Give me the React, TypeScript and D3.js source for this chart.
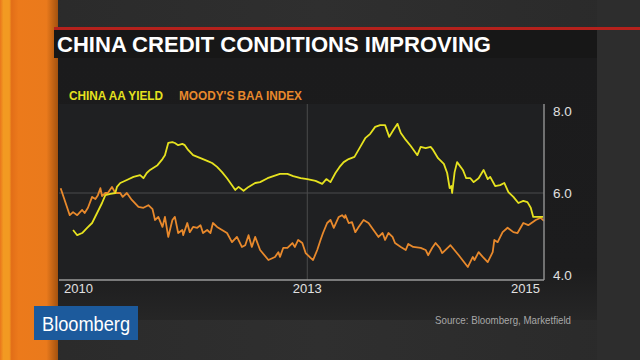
import React, { useEffect, useRef } from "react";
import * as d3 from "d3";

const title = "CHINA CREDIT CONDITIONS IMPROVING";
const seriesNames = ["CHINA AA YIELD", "MOODY'S BAA INDEX"];
const seriesColors = ["#e6e21f", "#e8892c"];
const yTicks = [4, 6, 8];
const xTickLabels = ["2010", "2013", "2015"];
const xTickYears = [2010, 2013, 2015.86];
const source = "Source: Bloomberg, Marketfield";

// [fractional year, yield %]
const chinaAA: [number, number][] = [
  [2010.17, 5.15], [2010.22, 5.03], [2010.28, 5.08], [2010.34, 5.2], [2010.4, 5.31],
  [2010.46, 5.54], [2010.52, 5.77], [2010.56, 5.95], [2010.62, 5.98], [2010.68, 6.0],
  [2010.7, 6.14], [2010.74, 6.23], [2010.82, 6.3], [2010.9, 6.37], [2010.98, 6.41],
  [2011.02, 6.34], [2011.06, 6.46], [2011.1, 6.53], [2011.19, 6.64], [2011.25, 6.78],
  [2011.28, 6.87], [2011.32, 7.15], [2011.37, 7.17], [2011.4, 7.15], [2011.44, 7.1],
  [2011.49, 7.13], [2011.52, 7.1], [2011.56, 6.99], [2011.62, 6.87], [2011.71, 6.8],
  [2011.79, 6.74], [2011.85, 6.69], [2011.91, 6.6], [2011.97, 6.48], [2012.03, 6.34],
  [2012.09, 6.18], [2012.13, 6.07], [2012.17, 6.14], [2012.23, 6.05], [2012.29, 6.14],
  [2012.37, 6.23], [2012.43, 6.25], [2012.52, 6.34], [2012.59, 6.39], [2012.67, 6.44],
  [2012.76, 6.44], [2012.83, 6.39], [2012.92, 6.34], [2013.0, 6.32], [2013.1, 6.28],
  [2013.18, 6.21], [2013.23, 6.32], [2013.28, 6.25], [2013.34, 6.46], [2013.39, 6.6],
  [2013.44, 6.71], [2013.5, 6.78], [2013.57, 6.83], [2013.64, 7.06], [2013.7, 7.26],
  [2013.76, 7.36], [2013.82, 7.52], [2013.88, 7.56], [2013.94, 7.56], [2013.99, 7.29],
  [2014.04, 7.45], [2014.09, 7.59], [2014.13, 7.38], [2014.19, 7.22], [2014.25, 7.08],
  [2014.33, 6.87], [2014.37, 7.06], [2014.43, 7.03], [2014.49, 7.06], [2014.52, 6.99],
  [2014.58, 6.8], [2014.65, 6.67], [2014.69, 6.46], [2014.72, 6.11], [2014.74, 6.16],
  [2014.75, 6.0], [2014.78, 6.48], [2014.81, 6.71], [2014.88, 6.53], [2014.92, 6.34],
  [2014.97, 6.34], [2015.01, 6.25], [2015.07, 6.34], [2015.13, 6.53], [2015.18, 6.32],
  [2015.21, 6.37], [2015.27, 6.16], [2015.33, 6.18], [2015.38, 6.23], [2015.43, 6.02],
  [2015.49, 5.91], [2015.55, 5.77], [2015.61, 5.82], [2015.66, 5.79], [2015.7, 5.66],
  [2015.73, 5.45], [2015.79, 5.45], [2015.85, 5.45],
];

const moodysBaa: [number, number][] = [
  [2010.02, 6.11], [2010.13, 5.49], [2010.17, 5.56], [2010.22, 5.49], [2010.28, 5.61],
  [2010.31, 5.54], [2010.35, 5.66], [2010.4, 5.91], [2010.44, 5.86], [2010.47, 5.95],
  [2010.5, 6.11], [2010.52, 5.93], [2010.56, 6.0], [2010.59, 6.0], [2010.64, 6.14],
  [2010.68, 6.0], [2010.74, 6.0], [2010.77, 5.91], [2010.82, 6.0], [2010.88, 5.84],
  [2010.96, 5.68], [2011.02, 5.66], [2011.08, 5.72], [2011.13, 5.63], [2011.16, 5.38],
  [2011.2, 5.45], [2011.25, 5.22], [2011.28, 5.45], [2011.32, 4.99], [2011.37, 5.38],
  [2011.4, 5.45], [2011.44, 5.08], [2011.49, 5.15], [2011.5, 5.03], [2011.55, 5.31],
  [2011.58, 5.1], [2011.62, 5.22], [2011.67, 5.2], [2011.71, 5.26], [2011.74, 5.08],
  [2011.79, 5.15], [2011.83, 5.08], [2011.86, 5.31], [2011.91, 5.22], [2011.97, 5.15],
  [2012.03, 5.08], [2012.09, 4.87], [2012.15, 4.99], [2012.21, 4.76], [2012.25, 4.8],
  [2012.29, 5.03], [2012.33, 4.76], [2012.37, 4.99], [2012.43, 4.69], [2012.53, 4.46],
  [2012.61, 4.53], [2012.65, 4.64], [2012.67, 4.53], [2012.71, 4.74], [2012.76, 4.74],
  [2012.82, 4.85], [2012.85, 4.76], [2012.89, 4.92], [2012.94, 4.85], [2012.98, 4.62],
  [2013.04, 4.51], [2013.07, 4.46], [2013.12, 4.69], [2013.16, 4.92], [2013.19, 5.08],
  [2013.24, 5.31], [2013.28, 5.38], [2013.32, 5.2], [2013.38, 5.45], [2013.42, 5.49],
  [2013.45, 5.43], [2013.46, 5.49], [2013.5, 5.31], [2013.54, 5.33], [2013.58, 5.1],
  [2013.62, 5.22], [2013.68, 5.38], [2013.74, 5.31], [2013.8, 5.15], [2013.86, 4.99],
  [2013.91, 5.08], [2013.94, 4.92], [2013.98, 5.08], [2014.03, 4.99], [2014.06, 4.85],
  [2014.13, 4.76], [2014.19, 4.69], [2014.22, 4.83], [2014.28, 4.76], [2014.37, 4.74],
  [2014.43, 4.69], [2014.46, 4.57], [2014.51, 4.74], [2014.55, 4.85], [2014.6, 4.74],
  [2014.63, 4.62], [2014.73, 4.8], [2014.83, 4.57], [2014.94, 4.3], [2015.0, 4.53],
  [2015.02, 4.46], [2015.07, 4.64], [2015.12, 4.53], [2015.18, 4.41], [2015.24, 4.64],
  [2015.26, 4.92], [2015.3, 4.87], [2015.36, 5.1], [2015.42, 5.2], [2015.49, 5.1],
  [2015.54, 5.08], [2015.61, 5.31], [2015.67, 5.26], [2015.76, 5.38], [2015.82, 5.43],
  [2015.86, 5.36],
];

export default function App() {
  const ref = useRef<SVGSVGElement>(null);

  useEffect(() => {
    const svg = d3.select(ref.current);
    svg.selectAll("*").remove();
    const width = 640;
    const height = 360;
    const plot = { left: 59, right: 544, top: 106, bottom: 280 };
    const font = "'Liberation Sans', Arial, sans-serif";

    const defs = svg.append("defs");
    const bgGrad = defs.append("linearGradient").attr("id", "bg").attr("x1", 0).attr("x2", 1);
    bgGrad.append("stop").attr("offset", "0").attr("stop-color", "#2a2a2a");
    bgGrad.append("stop").attr("offset", "0.5").attr("stop-color", "#2f2f2f");
    bgGrad.append("stop").attr("offset", "1").attr("stop-color", "#2a2a2a");
    const orangeGrad = defs.append("linearGradient").attr("id", "orange").attr("x1", 0).attr("x2", 1);
    [
      ["0", "#e9761c"], ["0.06", "#f29a22"], ["0.16", "#f29a22"], ["0.2", "#e26e18"],
      ["0.32", "#ec7a1b"], ["0.8", "#ea7a1c"], ["1", "#a4520f"],
    ].forEach(([o, c]) => orangeGrad.append("stop").attr("offset", o).attr("stop-color", c));
    const panelGrad = defs.append("linearGradient").attr("id", "panel").attr("x1", 0).attr("x2", 0).attr("y1", 0).attr("y2", 1);
    panelGrad.append("stop").attr("offset", "0").attr("stop-color", "#1b1b1c");
    panelGrad.append("stop").attr("offset", "0.8").attr("stop-color", "#1c1c1d");
    panelGrad.append("stop").attr("offset", "1").attr("stop-color", "#262626");

    // background
    svg.append("rect").attr("width", width).attr("height", height).attr("fill", "url(#bg)");
    svg.append("rect").attr("x", 597).attr("y", 0).attr("width", 43).attr("height", height).attr("fill", "#2d2d2d");
    svg.append("rect").attr("x", 54).attr("y", 58).attr("width", 543).attr("height", 262).attr("fill", "url(#panel)");
    svg.append("rect").attr("x", 0).attr("y", 0).attr("width", 58).attr("height", height).attr("fill", "url(#orange)");

    // title band
    svg.append("rect").attr("x", 54).attr("y", 27).attr("width", width - 54).attr("height", 3).attr("fill", "#b5211c");
    svg.append("rect").attr("x", 54).attr("y", 30).attr("width", 543).attr("height", 28).attr("fill", "#171717");
    svg.append("text")
      .attr("x", 57).attr("y", 52)
      .attr("font-family", font).attr("font-weight", "bold").attr("font-size", 22)
      .attr("textLength", 434).attr("lengthAdjust", "spacingAndGlyphs")
      .attr("fill", "#ffffff").text(title);

    // legend
    const legendX = [69, 179];
    const legendW = [94, 123];
    seriesNames.forEach((name, i) => {
      svg.append("text")
        .attr("x", legendX[i]).attr("y", 99.5)
        .attr("font-family", font).attr("font-weight", "bold").attr("font-size", 12.5)
        .attr("textLength", legendW[i]).attr("lengthAdjust", "spacingAndGlyphs")
        .attr("fill", seriesColors[i]).text(name);
    });

    const x = d3.scaleLinear().domain([xTickYears[0], xTickYears[2]]).range([plot.left, plot.right]);
    const y = d3.scaleLinear().domain([4, 8]).range([plot.bottom, plot.top]);

    // plot area
    svg.append("rect")
      .attr("x", plot.left).attr("y", plot.top - 2)
      .attr("width", plot.right - plot.left).attr("height", plot.bottom - plot.top + 2)
      .attr("fill", "#1f2022");

    // grid
    svg.append("line")
      .attr("x1", plot.left).attr("x2", plot.right)
      .attr("y1", y(6)).attr("y2", y(6))
      .attr("stroke", "#4a4a4c").attr("stroke-width", 1);
    svg.append("line")
      .attr("x1", x(2013)).attr("x2", x(2013))
      .attr("y1", plot.top - 2).attr("y2", plot.bottom)
      .attr("stroke", "#4a4a4c").attr("stroke-width", 1);

    // lines
    const line = d3.line<[number, number]>().x((d) => x(d[0])).y((d) => y(d[1]));
    [moodysBaa, chinaAA].forEach((data, i) => {
      svg.append("path")
        .datum(data)
        .attr("d", line)
        .attr("fill", "none")
        .attr("stroke", seriesColors[1 - i])
        .attr("stroke-width", 1.8)
        .attr("stroke-linejoin", "round");
    });

    // axes
    svg.append("line")
      .attr("x1", plot.right).attr("x2", plot.right)
      .attr("y1", plot.top - 2).attr("y2", plot.bottom)
      .attr("stroke", "#8c8c8c").attr("stroke-width", 1.5);
    svg.append("line")
      .attr("x1", plot.left).attr("x2", plot.right)
      .attr("y1", plot.bottom).attr("y2", plot.bottom)
      .attr("stroke", "#9a9a9a").attr("stroke-width", 1.5);

    yTicks.forEach((v) => {
      const ty = Math.max(plot.top + 5, Math.min(plot.bottom - 5, y(v)));
      svg.append("text")
        .attr("x", 553).attr("y", ty)
        .attr("dy", "0.36em")
        .attr("font-family", font).attr("font-size", 13.5)
        .attr("fill", "#e0e0e0").text(v.toFixed(1));
    });

    const anchors = ["start", "middle", "end"];
    const offsets = [5, 0, -4];
    xTickLabels.forEach((label, i) => {
      svg.append("text")
        .attr("x", x(xTickYears[i]) + offsets[i]).attr("y", 293)
        .attr("text-anchor", anchors[i])
        .attr("font-family", font).attr("font-size", 13)
        .attr("fill", "#e0e0e0").text(label);
    });

    // branding and source
    svg.append("rect").attr("x", 34).attr("y", 306).attr("width", 104).attr("height", 34).attr("fill", "#1c5a9c");
    svg.append("text")
      .attr("x", 42).attr("y", 331)
      .attr("font-family", font).attr("font-size", 20)
      .attr("textLength", 88).attr("lengthAdjust", "spacingAndGlyphs")
      .attr("fill", "#ffffff").text("Bloomberg");
    svg.append("text")
      .attr("x", 571).attr("y", 324)
      .attr("text-anchor", "end")
      .attr("font-family", font).attr("font-size", 10.5)
      .attr("textLength", 136).attr("lengthAdjust", "spacingAndGlyphs")
      .attr("fill", "#a8a8a8").text(source);
  }, []);

  return (
    <svg
      ref={ref}
      width={640}
      height={360}
      style={{ position: "absolute", left: 0, top: 0, display: "block" }}
    />
  );
}
